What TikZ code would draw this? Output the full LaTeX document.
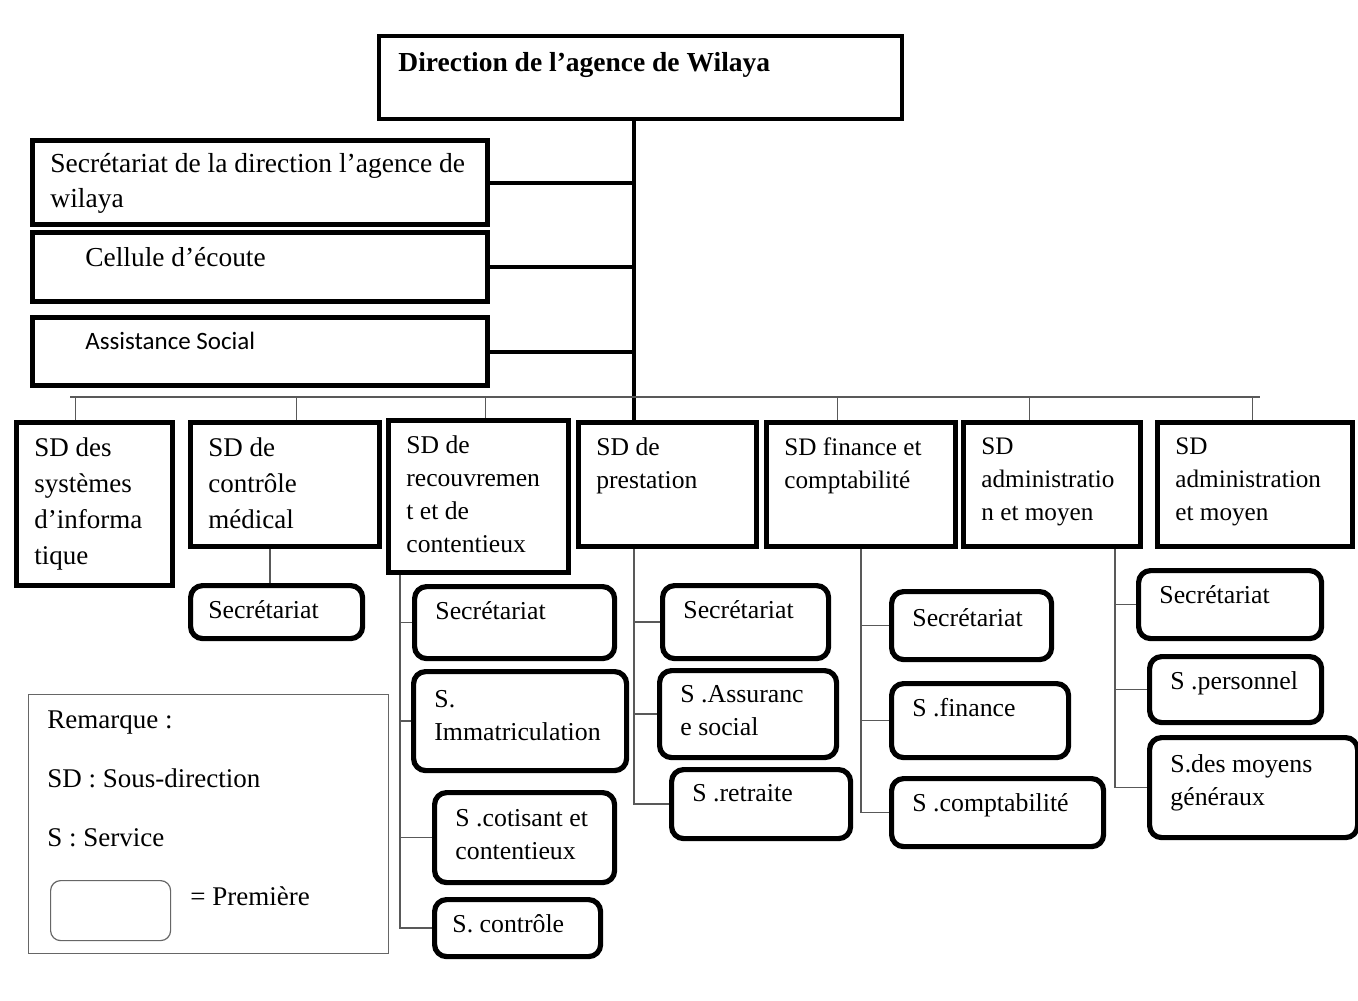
\documentclass[tikz,border=0pt]{standalone}
\usepackage{fontspec}
\setmainfont{Liberation Serif}
\newfontfamily\calibrifont{Carlito}
\usetikzlibrary{calc}

\begin{document}
\begin{tikzpicture}[x=0.5pt, y=-0.5pt,
    unit/.style={draw, line width=2.6pt, anchor=north west, inner sep=0pt},
    service/.style={unit, rounded corners=6pt},
    tx/.style={anchor=north west, align=left, inner sep=0pt, font=\fontsize{13.5}{18}\selectfont},
    sdtx/.style={tx, xshift=10pt, yshift=-8.5pt, font=\fontsize{13}{18}\selectfont},
    svtx/.style={tx, xshift=11.5pt, yshift=-8.5pt, font=\fontsize{12.9}{16.5}\selectfont},
    link/.style={draw=black!65, line width=0.8pt},
    bar/.style={line width=2pt}
]
\path[use as bounding box, fill=white] (0,0) rectangle (1358,1000);

% direction and attached units
\node[unit, line width=2pt, minimum width=261.5pt, minimum height=41.5pt,
  label={[tx, xshift=10.5pt, yshift=-9pt, font=\bfseries\fontsize{13.75}{18}\selectfont]north west:{Direction de l’agence de Wilaya}}] (top) at (377,34) {};
\node[unit, minimum width=227.5pt, minimum height=42pt,
  label={[sdtx, yshift=1pt, font=\fontsize{13.75}{17.5}\selectfont]north west:{Secrétariat de la direction l’agence de\\wilaya}}] (sec) at (30,138) {};
\node[unit, minimum width=227.5pt, minimum height=34.5pt,
  label={[sdtx, xshift=17.5pt, font=\fontsize{13.7}{18}\selectfont]north west:{Cellule d’écoute}}] (cel) at (30,230) {};
\node[unit, minimum width=227.5pt, minimum height=34pt,
  label={[sdtx, xshift=17.5pt, font=\calibrifont\fontsize{12.5}{15}\selectfont]north west:{Assistance Social}}] (asst) at (30,315) {};

% sous-directions
\node[unit, minimum width=78pt, minimum height=81.5pt,
  label={[sdtx, font=\fontsize{13.5}{18}\selectfont]north west:{SD des\\systèmes\\d’informa\\tique}}] (sdsi) at (14,420) {};
\node[unit, minimum width=94.5pt, minimum height=62pt,
  label={[sdtx, font=\fontsize{13.5}{18}\selectfont]north west:{SD de\\contrôle\\médical}}] (sdcm) at (188,420) {};
\node[unit, minimum width=90pt, minimum height=76pt,
  label={[sdtx, font=\fontsize{12.8}{16.5}\selectfont]north west:{SD de\\recouvremen\\t et de\\contentieux}}] (sdrc) at (386,418) {};
\node[unit, minimum width=89pt, minimum height=62pt,
  label={[sdtx, font=\fontsize{12.8}{16.5}\selectfont]north west:{SD de\\prestation}}] (sdpr) at (576,420) {};
\node[unit, minimum width=94.5pt, minimum height=62pt,
  label={[sdtx, font=\fontsize{12.6}{16.5}\selectfont]north west:{SD finance et\\comptabilité}}] (sdfc) at (764,420) {};
\node[unit, minimum width=88.5pt, minimum height=62pt,
  label={[sdtx, font=\fontsize{12.6}{16.5}\selectfont]north west:{SD\\administratio\\n et moyen}}] (sdam) at (961,420) {};
\node[unit, minimum width=97.5pt, minimum height=62pt,
  label={[sdtx, font=\fontsize{12.6}{16.5}\selectfont]north west:{SD\\administration\\et moyen}}] (sdag) at (1155,420) {};

% services
\node[service, minimum width=86pt, minimum height=26.5pt,
  label={[svtx, xshift=-1.5pt, yshift=0pt]north west:{Secrétariat}}] (cmsec) at (188,583) {};

\node[service, minimum width=100pt, minimum height=36pt,
  label={[svtx]north west:{Secrétariat}}] (rcsec) at (412,584) {};
\node[service, minimum width=106.5pt, minimum height=49.5pt,
  label={[svtx, yshift=-2pt]north west:{S.\\Immatriculation}}] (rcimm) at (411,669) {};
\node[service, minimum width=90pt, minimum height=45pt,
  label={[svtx, yshift=-1pt]north west:{S .cotisant et\\contentieux}}] (rccot) at (432,790) {};
\node[service, minimum width=83pt, minimum height=28.5pt,
  label={[svtx, xshift=-1.5pt]north west:{S. contrôle}}] (rcctl) at (432,897) {};

\node[service, minimum width=83pt, minimum height=36.5pt,
  label={[svtx]north west:{Secrétariat}}] (prsec) at (660,583) {};
\node[service, minimum width=88.5pt, minimum height=43.5pt,
  label={[svtx]north west:{S .Assuranc\\e social}}] (prass) at (657,668) {};
\node[service, minimum width=89.5pt, minimum height=34.5pt,
  label={[svtx]north west:{S .retraite}}] (prret) at (669,767) {};

\node[service, minimum width=80pt, minimum height=34pt,
  label={[svtx, yshift=-1pt]north west:{Secrétariat}}] (fcsec) at (889,589) {};
\node[service, minimum width=88.5pt, minimum height=37pt,
  label={[svtx]north west:{S .finance}}] (fcfin) at (889,681) {};
\node[service, minimum width=106pt, minimum height=34pt,
  label={[svtx]north west:{S .comptabilité}}] (fccpt) at (889,776) {};

\node[service, minimum width=91.5pt, minimum height=34pt,
  label={[svtx]north west:{Secrétariat}}] (amsec) at (1136,568) {};
\node[service, minimum width=86pt, minimum height=33pt,
  label={[svtx]north west:{S .personnel}}] (amper) at (1147,654) {};
\node[service, minimum width=104pt, minimum height=50pt,
  label={[svtx, yshift=-1pt]north west:{S.des moyens\\généraux}}] (ammoy) at (1147,735) {};

% main trunk
\coordinate (trunk) at (634,397);
\draw[bar] (top.south -| trunk) -- (trunk |- sdpr.north);
\foreach \n in {sec, cel, asst}
  \draw[bar] (\n.east) -- (\n.east -| trunk);

% bus to the sous-directions
\coordinate (busL) at (70,397);
\coordinate (busR) at (1260,397);
\draw[link] (busL) -- (busR);
\foreach \n/\dx in {sdsi/-9.5, sdcm/5.75, sdrc/3.5, sdfc/-11.75, sdam/-11.25, sdag/-1.25}
  \draw[link] ([xshift=\dx pt]\n.north |- busL) -- ([xshift=\dx pt]\n.north);

% services links
\draw[link] ([xshift=-7.5pt]sdcm.south) -- ([xshift=-7.5pt]sdcm.south |- cmsec.north);

\coordinate (rcv) at ([xshift=7pt]sdrc.south west);
\draw[link] (rcv) |- (rcctl.west);
\foreach \n in {rcsec, rcimm, rccot}
  \draw[link] (\n.west) -- (\n.west -| rcv);

\coordinate (prv) at ([xshift=29pt]sdpr.south west);
\draw[link] (prv) |- (prret.west);
\foreach \n in {prsec, prass}
  \draw[link] (\n.west) -- (\n.west -| prv);

\draw[link] (sdfc.south) |- (fccpt.west);
\foreach \n in {fcsec, fcfin}
  \draw[link] (\n.west) -- (\n.west -| sdfc.south);

\coordinate (amv) at ([xshift=-14pt]sdam.south east);
\draw[link] (amv) |- (ammoy.west);
\foreach \n in {amsec, amper}
  \draw[link] (\n.west) -- (\n.west -| amv);

% remarque
\node[draw=black!60, line width=0.6pt, anchor=north west, minimum width=180pt, minimum height=129.5pt, inner sep=0pt] (legend) at (28,694) {};
\node[tx, anchor=base west] (rem) at (47,728) {Remarque :};
\node[tx, anchor=base west] (remsd) at (47,787) {SD : Sous-direction};
\node[tx, anchor=base west] (rems) at (47,846) {S : Service};
\node[draw=black!60, line width=0.6pt, rounded corners=5pt, anchor=north west, minimum width=60pt, minimum height=30pt, inner sep=0pt] (sample) at (50,880) {};
\node[tx, anchor=base west] (remp) at (190,905) {= Première};

\end{tikzpicture}
\end{document}
